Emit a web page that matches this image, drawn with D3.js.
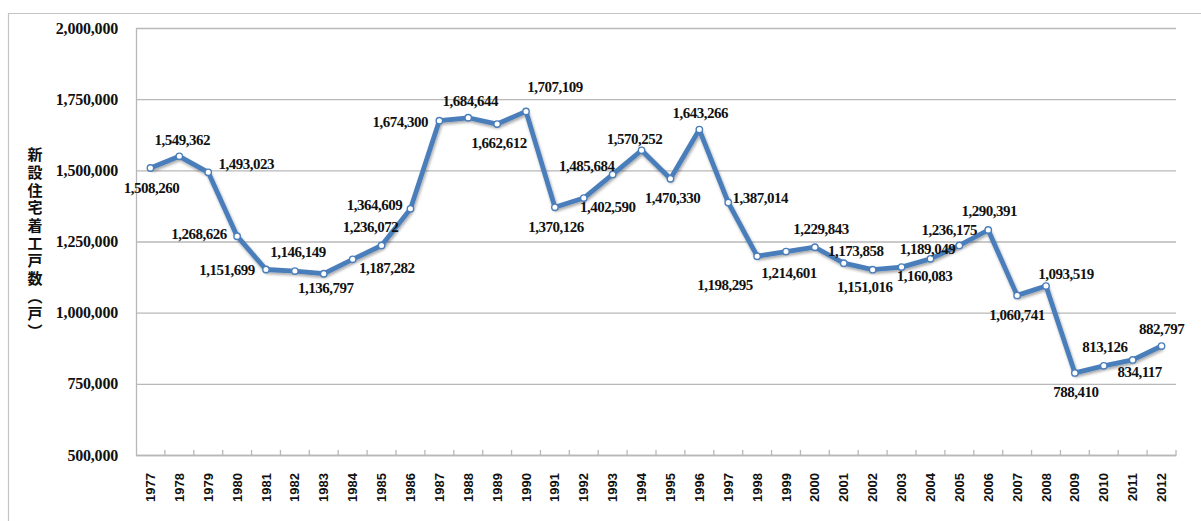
<!DOCTYPE html>
<html>
<head>
<meta charset="utf-8">
<script src="https://cdn.jsdelivr.net/npm/d3@7"></script>
<style>
  html, body { margin: 0; padding: 0; background: #fff; }
  svg { display: block; }
</style>
</head>
<body>
<svg id="chart" width="1201" height="521"></svg>
<script>
// Housing starts per year (units)
const years = [
  "1977","1978","1979","1980","1981","1982","1983","1984","1985","1986",
  "1987","1988","1989","1990","1991","1992","1993","1994","1995","1996",
  "1997","1998","1999","2000","2001","2002","2003","2004","2005","2006",
  "2007","2008","2009","2010","2011","2012"
];
const housingStarts = [
  1508260, 1549362, 1493023, 1268626, 1151699, 1146149, 1136797, 1187282, 1236072, 1364609,
  1674300, 1684644, 1662612, 1707109, 1370126, 1402590, 1485684, 1570252, 1470330, 1643266,
  1387014, 1198295, 1214601, 1229843, 1173858, 1151016, 1160083, 1189049, 1236175, 1290391,
  1060741, 1093519, 788410, 813126, 834117, 882797
];
const yTicks = [500000, 750000, 1000000, 1250000, 1500000, 1750000, 2000000];
const yTitle = "新設住宅着工戸数（戸）";

// Label offsets from each point (px), keeping labels clear of the line
const labelOffsets = [
  [1, 20], [3, -17], [38, -9], [-38, -2], [-39, 0], [3, -19], [2, 14], [34, 8], [-11, -19], [-36, -4],
  [-39, 1], [2, -17], [2, 19], [29, -25], [1, 19], [24, 9], [-26, -9], [-7, -12], [2, 19], [1, -17],
  [32, -5], [-32, 29], [3, 21], [6, -18], [12, -12], [-8, 17], [23, 9], [-3, -10], [-10, -16], [1, -19],
  [0, 19], [20, -12], [1, 19], [1, -19], [7, 12], [0, -17]
];

const svg = d3.select("#chart");
const plot = { left: 136, right: 1176, top: 28, bottom: 455 };
const lineColor = "#4a7ebb";
const gridColor = "#b8b8b8";

// Outer frame (top and left edges visible)
svg.append("path")
  .attr("d", "M8.5,530 L8.5,13.5 L1210,13.5")
  .attr("fill", "none")
  .attr("stroke", "#c4c4c4")
  .attr("stroke-width", 1.2);

const x = d3.scaleBand().domain(years).range([plot.left, plot.right]);
const y = d3.scaleLinear().domain([500000, 2000000]).range([plot.bottom, plot.top]);

const defs = svg.append("defs");
const shadow = defs.append("filter").attr("id", "shadow")
  .attr("x", "-5%").attr("y", "-5%").attr("width", "110%").attr("height", "120%");
shadow.append("feGaussianBlur").attr("in", "SourceAlpha").attr("stdDeviation", 1.6).attr("result", "b");
shadow.append("feOffset").attr("in", "b").attr("dx", 1).attr("dy", 2).attr("result", "o");
shadow.append("feComponentTransfer").attr("in", "o").attr("result", "s")
  .append("feFuncA").attr("type", "linear").attr("slope", 0.35);
const merge = shadow.append("feMerge");
merge.append("feMergeNode").attr("in", "s");
merge.append("feMergeNode").attr("in", "SourceGraphic");

// Horizontal gridlines
const grid = svg.append("g")
  .attr("transform", `translate(${plot.left},0)`)
  .call(d3.axisLeft(y).tickValues(yTicks).tickSize(-(plot.right - plot.left)).tickFormat(""));
grid.select(".domain").remove();
grid.selectAll(".tick line").attr("stroke", gridColor).attr("stroke-width", 1.3);

// Y axis labels
const yAxis = svg.append("g")
  .attr("transform", `translate(${plot.left},0)`)
  .call(d3.axisLeft(y).tickValues(yTicks).tickSize(0).tickPadding(18).tickFormat(d3.format(",")));
yAxis.select(".domain").attr("stroke", gridColor).attr("stroke-width", 1.3);
yAxis.selectAll(".tick text")
  .attr("font-family", "'Liberation Serif', serif")
  .attr("font-weight", "bold")
  .attr("font-size", 16)
  .attr("letter-spacing", -0.2)
  .attr("fill", "#111");

// X axis with boundary ticks pointing up
const xAxis = svg.append("g")
  .attr("transform", `translate(0,${plot.bottom})`)
  .call(d3.axisBottom(x).tickSize(0).tickPadding(0));
xAxis.select(".domain").attr("stroke", gridColor).attr("stroke-width", 1.3);
xAxis.selectAll(".tick text")
  .attr("transform", "rotate(-90)")
  .attr("text-anchor", "end")
  .attr("dy", "0.35em")
  .attr("x", -18)
  .attr("y", 0)
  .attr("font-family", "'Liberation Sans', Arial, sans-serif")
  .attr("font-weight", "bold")
  .attr("font-size", 13)
  .attr("fill", "#111");

const boundaries = years.map(d => x(d)).concat([x(years[years.length - 1]) + x.bandwidth()]);
xAxis.selectAll("line.boundary")
  .data(boundaries.slice(1))
  .join("line")
  .attr("class", "boundary")
  .attr("x1", d => d).attr("x2", d => d)
  .attr("y1", 0).attr("y2", -5)
  .attr("stroke", gridColor).attr("stroke-width", 1.3);

// Y axis title, vertical text
svg.append("text")
  .attr("x", 35)
  .attr("y", 147)
  .attr("style", "writing-mode: vertical-rl; text-orientation: mixed;")
  .attr("font-family", "'Noto Sans CJK JP', sans-serif")
  .attr("font-weight", "bold")
  .attr("font-size", 15)
  .attr("letter-spacing", 2.7)
  .attr("fill", "#111")
  .text(yTitle);

// Series line
const px = (d, i) => x(years[i]) + x.bandwidth() / 2;
const line = d3.line().x((d, i) => px(d, i)).y(d => y(d));
svg.append("path")
  .datum(housingStarts)
  .attr("d", line)
  .attr("fill", "none")
  .attr("stroke", lineColor)
  .attr("stroke-width", 4.8)
  .attr("stroke-linejoin", "round")
  .attr("filter", "url(#shadow)");

// Markers
svg.append("g").selectAll("circle")
  .data(housingStarts)
  .join("circle")
  .attr("cx", (d, i) => px(d, i))
  .attr("cy", d => y(d))
  .attr("r", 3.2)
  .attr("fill", "#fff")
  .attr("stroke", lineColor)
  .attr("stroke-width", 1.4);

// Data labels
svg.append("g").selectAll("text")
  .data(housingStarts)
  .join("text")
  .attr("x", (d, i) => px(d, i) + labelOffsets[i][0])
  .attr("y", (d, i) => y(d) + labelOffsets[i][1])
  .attr("dy", "0.35em")
  .attr("text-anchor", "middle")
  .attr("font-family", "'Liberation Serif', serif")
  .attr("font-weight", "bold")
  .attr("font-size", 15)
  .attr("letter-spacing", -0.5)
  .attr("fill", "#111")
  .text(d => d3.format(",")(d));
</script>
</body>
</html>
